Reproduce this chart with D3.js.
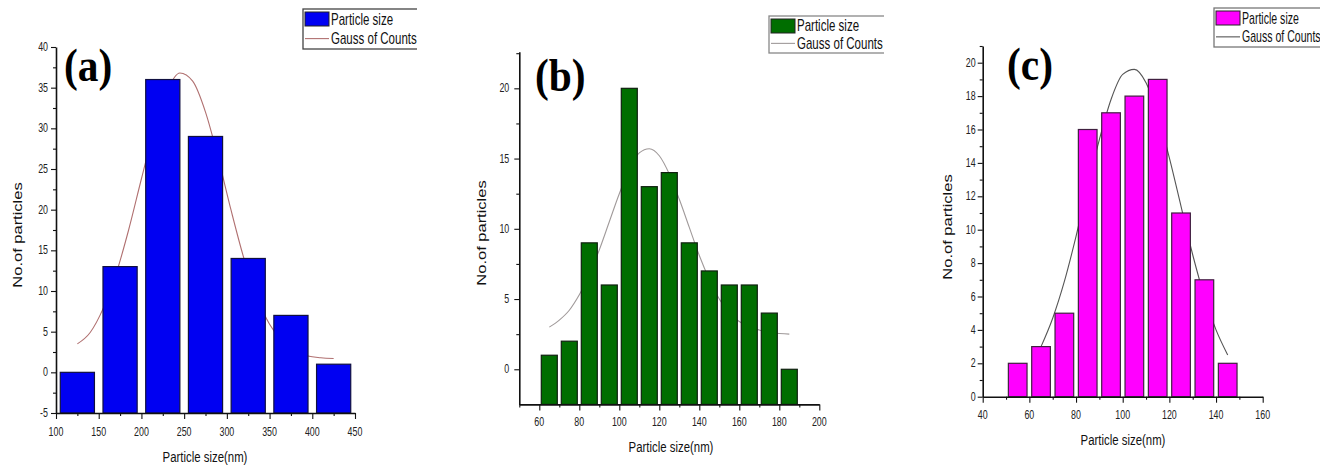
<!DOCTYPE html>
<html><head><meta charset="utf-8">
<script src="https://cdn.jsdelivr.net/npm/d3@7"></script>
<style>body{margin:0;background:#fff} svg{display:block}</style>
</head><body>
<svg id="c" width="1332" height="467"></svg>
<script>
// ---------- data (a) ----------
const sizesA = [125,175,225,275,325,375,425];
const countsA = [0,13,36,29,14,7,1];
const gaussXA = [125,140,155,170,185,200,215,230,245,260,275,290,305,320,335,350,365,380,395,410,425];
const gaussYA = [3.5,4.9,7.8,12.0,17.5,23.8,29.9,34.6,36.8,35.8,32.0,26.3,19.9,14.0,9.3,5.9,3.8,2.6,2.0,1.8,1.7];
const xMajorA = [100,150,200,250,300,350,400,450];
const xMinorA = [125,175,225,275,325,375,425];
const yMajorA = [-5,0,5,10,15,20,25,30,35,40];
const yMinorA = [-2.5,2.5,7.5,12.5,17.5,22.5,27.5,32.5,37.5];

// ---------- data (b) ----------
const sizesB = [65,75,85,95,105,115,125,135,145,155,165,175,185];
const countsB = [1,2,9,6,20,13,14,9,7,6,6,4,0];
const gaussXB = [65,70,75,80,85,90,95,100,105,110,115,120,125,130,135,140,145,150,155,160,165,170,175,180,185];
const gaussYB = [3.0,3.5,4.2,5.3,6.7,8.5,10.5,12.5,14.2,15.4,15.7,15.2,13.9,12.1,10.1,8.1,6.4,5.0,4.0,3.4,3.0,2.8,2.6,2.55,2.5];
const xMajorB = [60,80,100,120,140,160,180,200];
const xMinorB = [50,70,90,110,130,150,170,190];
const yMajorB = [0,5,10,15,20];
const yMinorB = [2.5,7.5,12.5,17.5,22.5];

// ---------- data (c) ----------
const sizesC = [55,65,75,85,95,105,115,125,135,145];
const countsC = [2,3,5,16,17,18,19,11,7,2];
const gaussXC = [65,70,75,80,85,90,95,100,105,110,115,120,125,130,135,140,145];
const gaussYC = [3.0,4.7,6.9,9.6,12.6,15.4,17.8,19.3,19.6,18.8,16.9,14.3,11.4,8.5,6.0,4.0,2.5];
const xMajorC = [40,60,80,100,120,140,160];
const xMinorC = [50,70,90,110,130,150];
const yMajorC = [0,2,4,6,8,10,12,14,16,18,20];
const yMinorC = [1,3,5,7,9,11,13,15,17,19,21];

const legendLabels = ["Particle size","Gauss of Counts"];
const xTitle = "Particle size(nm)";
const yTitle = "No.of particles";

const svg = d3.select('#c');
const defs = svg.append('defs');
const SANS = '"Liberation Sans", Arial, sans-serif';
const KX = 0.74;

function panel(o){
  defs.append('clipPath').attr('id', o.id).append('rect')
    .attr('x', o.clip[0]).attr('y', 0).attr('width', o.clip[1]-o.clip[0]).attr('height', 467);
  const g = svg.append('g').attr('clip-path', `url(#${o.id})`);
  const x = d3.scaleLinear().domain(o.xDom).range(o.xR);
  const y = d3.scaleLinear().domain(o.yDom).range(o.yR);
  const base = o.yDom[0];

  // gauss curve (behind bars)
  g.append('path').datum(d3.zip(o.gx, o.gy))
    .attr('d', d3.line().x(d=>x(d[0])).y(d=>y(d[1])).curve(d3.curveMonotoneX))
    .attr('fill','none').attr('stroke', o.curve).attr('stroke-width', 1.1);

  // bars
  g.selectAll('rect.bar').data(d3.zip(o.sizes, o.counts)).join('rect')
    .attr('class','bar')
    .attr('x', d=>x(d[0]-o.bw/2))
    .attr('width', d=>x(d[0]+o.bw/2)-x(d[0]-o.bw/2))
    .attr('y', d=>y(d[1]))
    .attr('height', d=>y(base)-y(d[1]))
    .attr('fill', o.fill).attr('stroke', o.stroke).attr('stroke-width', 1.2);

  // axes
  const axY0 = y(base);
  const styleAxis = sel => { sel.select('.domain').attr('stroke','#111').attr('stroke-width',1.6);
    sel.selectAll('.tick line').attr('stroke','#111').attr('stroke-width',1.1); };
  g.append('g').attr('transform',`translate(0,${axY0})`)
    .call(d3.axisBottom(x).tickValues(o.xMinor).tickSize(3).tickSizeOuter(0).tickFormat(''))
    .call(s=>s.select('.domain').remove()).call(styleAxis);
  g.append('g').attr('transform',`translate(0,${axY0})`)
    .call(d3.axisBottom(x).tickValues(o.xMajor).tickSize(6).tickSizeOuter(0).tickFormat(''))
    .call(styleAxis);
  g.append('g').attr('transform',`translate(${o.xR[0]},0)`)
    .call(d3.axisLeft(y).tickValues(o.yMinor).tickSize(3).tickSizeOuter(0).tickFormat(''))
    .call(s=>s.select('.domain').remove()).call(styleAxis);
  g.append('g').attr('transform',`translate(${o.xR[0]},0)`)
    .call(d3.axisLeft(y).tickValues(o.yMajor).tickSize(5).tickSizeOuter(0).tickFormat(''))
    .call(styleAxis);

  // tick labels
  g.selectAll('text.xl').data(o.xMajor).join('text').attr('class','xl')
    .attr('transform', d=>`translate(${x(d)},${o.xLabY}) scale(${KX},1)`)
    .attr('text-anchor','middle').attr('font-family',SANS).attr('font-size',12).attr('fill','#222')
    .text(d=>d);
  g.selectAll('text.yl').data(o.yMajor).join('text').attr('class','yl')
    .attr('transform', d=>`translate(${o.xR[0]-o.yLabOff},${y(d)+4}) scale(${KX},1)`)
    .attr('text-anchor','end').attr('font-family',SANS).attr('font-size',12).attr('fill','#222')
    .text(d=>d);

  // titles
  g.append('text').attr('transform',`translate(${o.xTitle[0]},${o.xTitle[1]}) scale(0.76,1)`)
    .attr('text-anchor','middle').attr('font-family',SANS).attr('font-size',15).attr('fill','#111')
    .text(xTitle);
  g.append('text').attr('transform',`translate(${o.yTitle[0]},${o.yTitle[1]}) scale(0.72,1) rotate(-90)`)
    .attr('text-anchor','middle').attr('font-family',SANS).attr('font-size',16.5).attr('fill','#111')
    .text(yTitle);
  g.append('text').attr('transform',`translate(${o.tag[0]},${o.tag[1]}) scale(0.9,1)`)
    .attr('font-family','"Liberation Serif","Times New Roman",serif').attr('font-weight','bold')
    .attr('font-size',46).attr('fill','#000').text(o.tagText);

  // legend
  const L = o.leg;
  g.append('rect').attr('x',L.x).attr('y',L.y).attr('width',160).attr('height',L.h)
    .attr('fill','#fff').attr('stroke',L.border).attr('stroke-width',1.3);
  g.append('rect').attr('x',L.x+2).attr('y',L.y+3).attr('width',24).attr('height',14)
    .attr('fill',o.fill).attr('stroke','#222').attr('stroke-width',1);
  g.append('line').attr('x1',L.x+2).attr('x2',L.x+26).attr('y1',L.y+L.h*0.74).attr('y2',L.y+L.h*0.74)
    .attr('stroke',o.curve).attr('stroke-width',1.1);
  legendLabels.forEach((t,i)=>{
    g.append('text').attr('transform',`translate(${L.x+28},${L.y + (i===0 ? L.h*0.26 : L.h*0.74) + 5.5}) scale(${L.kx},1)`)
      .attr('font-family',SANS).attr('font-size',16).attr('fill','#111').text(t);
  });
}

panel({id:'pa', clip:[0,417], xDom:[100,450], xR:[56,355], yDom:[-5,40], yR:[413,47],
  sizes:sizesA, counts:countsA, gx:gaussXA, gy:gaussYA, bw:40,
  xMajor:xMajorA, xMinor:xMinorA, yMajor:yMajorA, yMinor:yMinorA,
  fill:'#0000f2', stroke:'#101040', curve:'#b07070',
  xLabY:436, yLabOff:8, xTitle:[205,462], yTitle:[22,235], tag:[64,81], tagText:'(a)',
  leg:{x:303, y:9, h:40, border:'#444', kx:0.72}});

panel({id:'pb', clip:[444,884], xDom:[50,200], xR:[519.3,819.3], yDom:[-2.5,22.6], yR:[404.4,51.8],
  sizes:sizesB, counts:countsB, gx:gaussXB, gy:gaussYB, bw:8,
  xMajor:xMajorB, xMinor:xMinorB, yMajor:yMajorB, yMinor:yMinorB,
  fill:'#006e00', stroke:'#102010', curve:'#a09a9a',
  xLabY:426, yLabOff:10, xTitle:[671,452], yTitle:[486,233], tag:[535,91], tagText:'(b)',
  leg:{x:769, y:16, h:37, border:'#888', kx:0.72}});

panel({id:'pc', clip:[888,1320], xDom:[40,160], xR:[982.7,1262.7], yDom:[0,21], yR:[396.7,46],
  sizes:sizesC, counts:countsC, gx:gaussXC, gy:gaussYC, bw:8,
  xMajor:xMajorC, xMinor:xMinorC, yMajor:yMajorC, yMinor:yMinorC,
  fill:'#ff00ff', stroke:'#402040', curve:'#555',
  xLabY:419, yLabOff:7, xTitle:[1123,445], yTitle:[952,227], tag:[1007,80], tagText:'(c)',
  leg:{x:1214, y:8, h:39, border:'#777', kx:0.66}});
</script>
</body></html>
